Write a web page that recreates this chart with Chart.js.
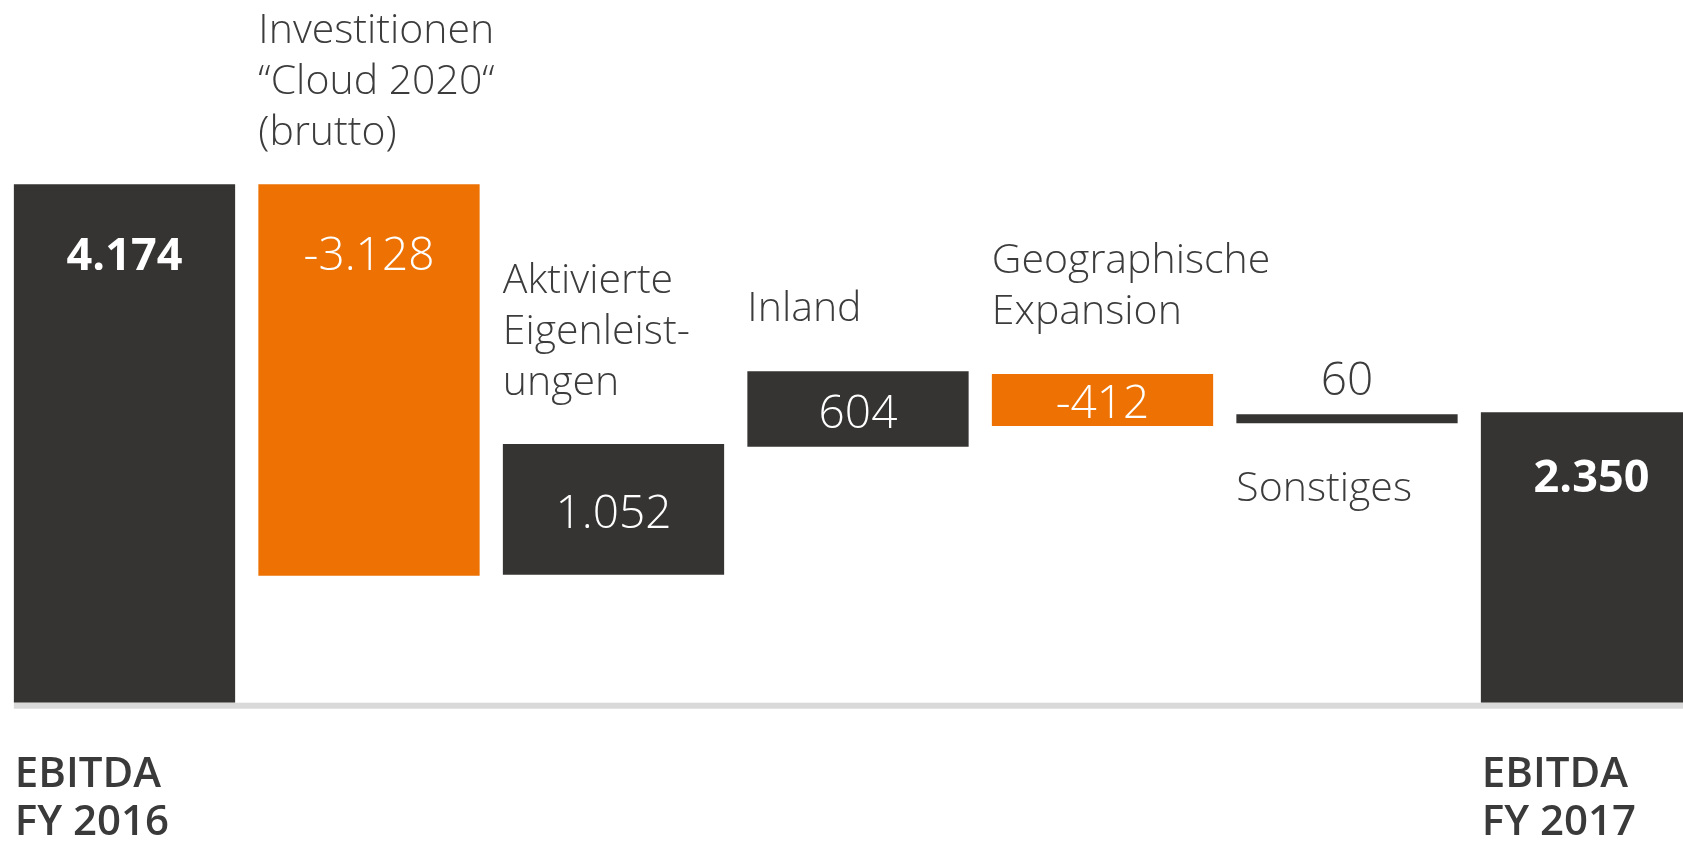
<!DOCTYPE html>
<html>
<head>
<meta charset="utf-8">
<script src="https://cdn.jsdelivr.net/npm/chart.js@4.4.1/dist/chart.umd.min.js"></script>
<style>
  html, body { margin: 0; padding: 0; background: #ffffff; overflow: hidden; }
  #wrap { width: 1716px; height: 841px; }
  canvas { display: block; }
</style>
</head>
<body>
<div id="wrap"><canvas id="c" width="1716" height="841"></canvas></div>
<script>
// ---- data ----
const categories = [
  ["EBITDA", "FY 2016"],
  ["Investitionen", "\u201CCloud 2020\u201C", "(brutto)"],
  ["Aktivierte", "Eigenleist-", "ungen"],
  ["Inland"],
  ["Geographische", "Expansion"],
  ["Sonstiges"],
  ["EBITDA", "FY 2017"]
];
const barLow  = [0, 1023, 1031, 2061, 2228, 2250, 0];
const barHigh = [4174, 4174, 2083, 2668, 2647, 2322, 2338];
const valueLabels = ["4.174", "-3.128", "1.052", "604", "-412", "60", "2.350"];
const barKind = ["total", "decrease", "increase", "increase", "decrease", "increase", "total"];

// ---- styling ----
const DARK = "#363433";
const ORANGE = "#ED7203";
const TEXT = "#3c3c3c";
const FONT = "'Open Sans', 'Noto Sans', sans-serif";

const kindColor = { total: DARK, increase: DARK, decrease: ORANGE };

// category label placement: where the text sits relative to its bar
const catPlacement = [
  { pos: "bottom" },
  { pos: "above", gap: 39 },
  { pos: "above", gap: 49 },
  { pos: "above", gap: 50 },
  { pos: "above", gap: 50 },
  { pos: "below", gap: 78 },
  { pos: "bottom" }
];
// value label placement
const valPlacement = [
  { pos: "top", off: 86, bold: true, color: "#ffffff" },
  { pos: "top", off: 86, bold: false, color: "#ffffff" },
  { pos: "middle", off: 19, bold: false, color: "#ffffff" },
  { pos: "middle", off: 19, bold: false, color: "#ffffff" },
  { pos: "middle", off: 18, bold: false, color: "#ffffff" },
  { pos: "above", off: 19, bold: false, color: TEXT },
  { pos: "top", off: 80, bold: true, color: "#ffffff" }
];

const baselinePlugin = {
  id: "baselineLine",
  beforeDatasetsDraw(chart) {
    const ctx = chart.ctx;
    const y0 = chart.scales.y.getPixelForValue(0);
    const bar0 = chart.getDatasetMeta(0).data[0];
    const left = bar0.x - bar0.width / 2;
    ctx.save();
    ctx.fillStyle = "#d9d9d9";
    ctx.fillRect(left, y0, chart.width - left, 6);
    ctx.restore();
  }
};

const labelPlugin = {
  id: "waterfallLabels",
  afterDatasetsDraw(chart) {
    const ctx = chart.ctx;
    const meta = chart.getDatasetMeta(0);
    const y0 = chart.scales.y.getPixelForValue(0);
    ctx.save();
    meta.data.forEach((bar, i) => {
      const p = bar.getProps(["x", "y", "base", "width"], true);
      const left = p.x - p.width / 2;
      const top = Math.min(p.y, p.base);
      const bottom = Math.max(p.y, p.base);
      const lines = categories[i];
      const cp = catPlacement[i];
      const lh = 51;
      ctx.textAlign = "left";
      ctx.textBaseline = "alphabetic";
      if (cp.pos === "bottom") {
        ctx.font = "600 42px " + FONT;
        ctx.fillStyle = "#3a3a3a";
        lines.forEach((t, k) => ctx.fillText(t, left + 1, y0 + 84 + k * 48));
      } else if (cp.pos === "above") {
        ctx.font = "300 41px " + FONT;
        ctx.fillStyle = TEXT;
        const lastBase = top - cp.gap;
        lines.forEach((t, k) => ctx.fillText(t, left, lastBase - (lines.length - 1 - k) * lh));
      } else if (cp.pos === "below") {
        ctx.font = "300 41px " + FONT;
        ctx.fillStyle = TEXT;
        lines.forEach((t, k) => ctx.fillText(t, left, bottom + cp.gap + k * lh));
      }

      const vp = valPlacement[i];
      ctx.textAlign = "center";
      ctx.font = (vp.bold ? "700 45px " : "300 46px ") + FONT;
      ctx.fillStyle = vp.color;
      let yb;
      if (vp.pos === "top") yb = top + vp.off;
      else if (vp.pos === "middle") yb = (top + bottom) / 2 + vp.off;
      else yb = top - vp.off;
      ctx.fillText(valueLabels[i], p.x, yb);
    });
    ctx.restore();
  }
};

new Chart(document.getElementById("c"), {
  type: "bar",
  data: {
    labels: categories.map(c => c.join(" ")),
    datasets: [{
      data: barLow.map((lo, i) => [lo, barHigh[i]]),
      backgroundColor: barKind.map(k => kindColor[k]),
      borderWidth: 0,
      borderSkipped: false,
      categoryPercentage: 1.0,
      barPercentage: 0.905
    }]
  },
  options: {
    responsive: false,
    animation: false,
    devicePixelRatio: 1,
    layout: { padding: { left: 2.25, right: 2.25, top: 0, bottom: 138.3 } },
    plugins: { legend: { display: false }, tooltip: { enabled: false } },
    scales: {
      x: { display: false, offset: true },
      y: { display: false, min: 0, max: 5658 }
    }
  },
  plugins: [baselinePlugin, labelPlugin]
});
</script>
</body>
</html>
